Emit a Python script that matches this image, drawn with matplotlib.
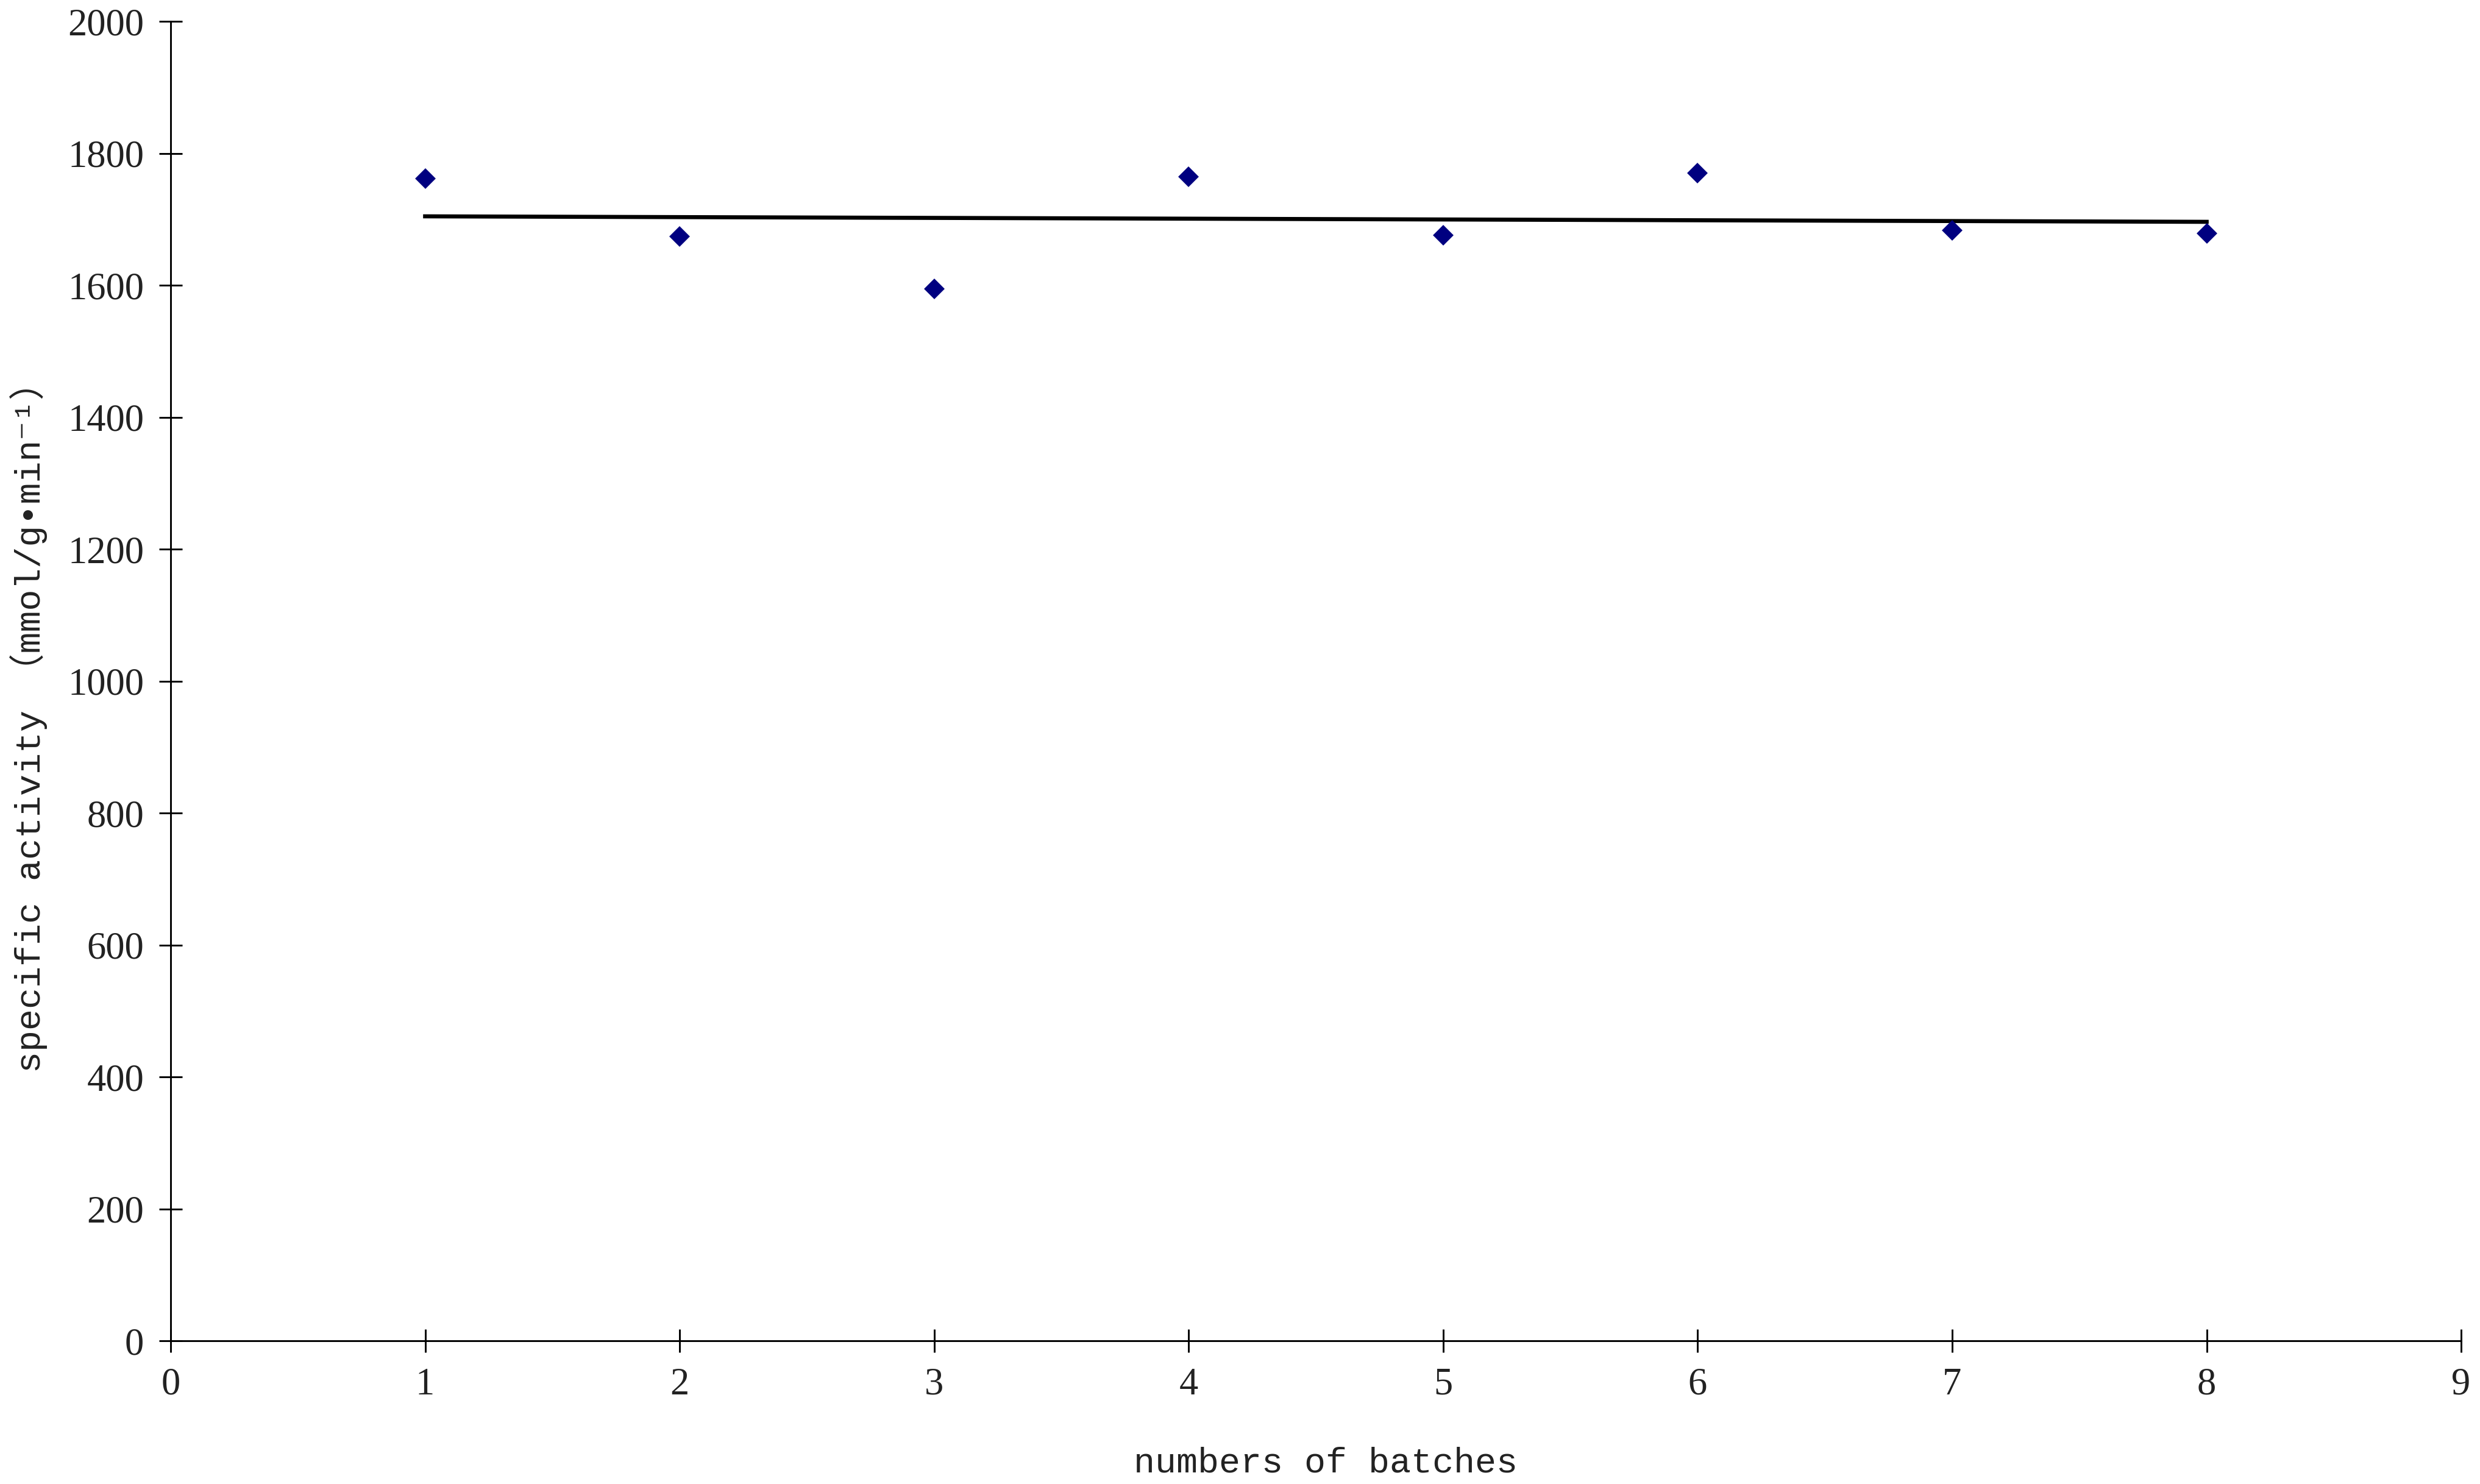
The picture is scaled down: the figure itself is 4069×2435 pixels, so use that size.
import numpy as np
import matplotlib
matplotlib.use("Agg")
import matplotlib.pyplot as plt

batches = [1, 2, 3, 4, 5, 6, 7, 8]
activity = [1762, 1674, 1595, 1765, 1676, 1770, 1683, 1679]
x_ticks = [0, 1, 2, 3, 4, 5, 6, 7, 8, 9]
y_ticks = [0, 200, 400, 600, 800, 1000, 1200, 1400, 1600, 1800, 2000]

fig = plt.figure(figsize=(4069 / 300, 2435 / 300), dpi=300)
ax = fig.add_axes([0.0688, 0.0965, 0.9236, 0.8890])

ax.plot(batches, activity, linestyle="none", marker="D", markersize=4.8,
        color="#000080", zorder=3)

slope, intercept = np.polyfit(batches, activity, 1)
xs = np.array([batches[0], batches[-1]])
ax.plot(xs, slope * xs + intercept, color="black", linewidth=1.6, zorder=2)

ax.set_xlim(0, 9)
ax.set_ylim(0, 2000)
ax.set_xticks(x_ticks)
ax.set_yticks(y_ticks)
ax.spines["top"].set_visible(False)
ax.spines["right"].set_visible(False)
for s in ("left", "bottom"):
    ax.spines[s].set_linewidth(0.7)
ax.tick_params(direction="inout", length=9, width=0.7, pad=6)
for lab in ax.get_xticklabels() + ax.get_yticklabels():
    lab.set_fontfamily("Liberation Serif")
    lab.set_fontsize(15)
    lab.set_color("#222222")

fig.text(0.5345, 0.003, "numbers of batches", ha="center", va="bottom",
         fontsize=14, family=["Liberation Mono"], color="#222222")
fig.text(0.0115, 0.516, "specific activity （mmol/g•min⁻¹）", rotation=90,
         ha="center", va="center", fontsize=14, color="#222222",
         family=["Liberation Mono", "Noto Sans CJK SC", "DejaVu Sans"])

fig.savefig("out.png", dpi=300, facecolor="white")
